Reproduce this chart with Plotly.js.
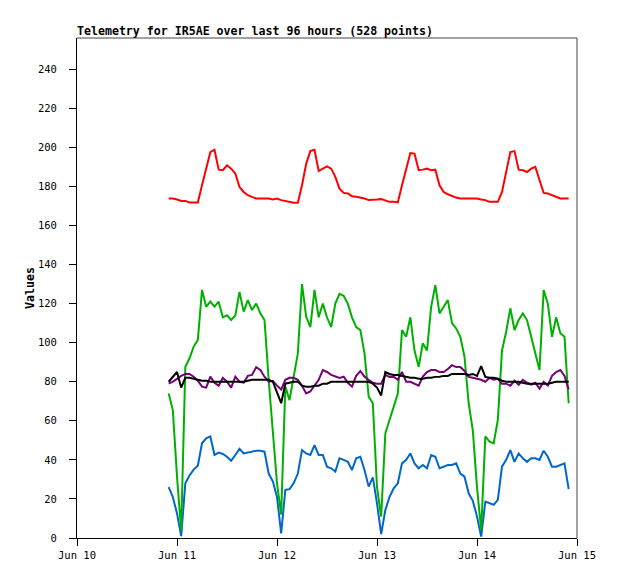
<!DOCTYPE html>
<html>
<head>
<meta charset="utf-8">
<script src="https://cdn.plot.ly/plotly-3.0.1.min.js"></script>
<style>
  body { margin: 0; background: #fff; }
  #chart { width: 618px; height: 579px; }
</style>
</head>
<body>
<div id="chart"></div>
<script>
// hourly samples, first one at Jun 10 22:00
const startTime = Date.UTC(2024, 5, 10, 22, 0, 0);

const red = [
  173.8, 173.8, 173.3, 172.6, 172.6, 171.8, 171.8, 171.8, 180.6, 189.9, 197.6, 198.8, 188.6, 188.3, 190.8, 189.1, 186.6, 179.7, 177.2, 175.5, 174.7, 173.8, 173.8, 173.8, 173.8,
  173.3, 173.8, 173, 172.6, 172.1, 171.6, 171.6, 180.6, 191.6, 198.1, 198.8, 187.9, 189.1, 190.3, 189.1, 184.9, 178.9, 176.7, 176.4, 175, 174.7, 174.3, 173.8, 173,
  173, 173.3, 173.5, 172.6, 172.1, 172.1, 171.8, 180.6, 189.1, 197.1, 196.8, 188.3, 188.6, 189.1, 188.3, 188.6, 180.6, 177.2, 176, 175, 174.3, 173.8, 173.8, 173.8,
  173.8, 173.8, 173.3, 173, 172.1, 172.1, 172.1, 177.2, 186.6, 197.6, 198.1, 188.6, 188.3, 187.4, 189.1, 190, 183.3, 176.7, 176.4, 175.5, 174.7, 173.8, 173.8, 173.8
];

const green = [
  74, 65.5, 31.4, 4, 87.7, 92, 98, 101.4, 127, 118.4, 121, 118.4, 121, 113, 114, 111.6, 114, 126, 115.9, 121.8, 116.7, 120, 115, 111.6, 81,
  55, 28, 12, 77.5, 70.6, 82.6, 94.5, 130, 113.3, 108, 127, 113, 120, 113, 108, 120, 125, 124, 120, 113, 108, 106.5, 94.5, 72.4,
  69, 26, 11, 53.6, 60.4, 67, 74, 106.5, 103, 113, 96, 87.7, 99.7, 96, 118.4, 129.5, 115, 118.4, 121.8, 110, 107.3, 103, 92.8, 69,
  55, 26, 4, 52, 49.3, 48.5, 60.4, 96, 105.6, 117.6, 106.5, 111.6, 115, 111.6, 103, 94.5, 86, 127, 120, 103, 113, 104.8, 103, 69
];

const blue = [
  26, 21, 12.6, 1, 28, 32, 35, 37, 48.5, 51, 52, 42.5, 43.7, 43, 41.6, 39.6, 42.5, 45.6, 43.3, 43.7, 44.2, 44.7, 44.7, 44.2, 33,
  29, 21, 2.4, 24.6, 25, 28, 33, 45, 43.3, 42.5, 47.6, 42.5, 42.5, 36.5, 35.7, 34, 40.8, 40, 39, 34.8, 40.8, 41.6, 34.8, 26.3,
  31, 17.7, 2, 14.3, 21, 25.4, 28, 38.2, 40, 43.3, 38.2, 35.7, 37.4, 35.7, 42.5, 41.6, 35.7, 36.5, 37.4, 37.4, 38.2, 33, 31.4, 22.9,
  19, 11, 0.7, 18.6, 17.7, 17, 19.5, 36.5, 40, 45, 39, 43.3, 40.8, 39, 40.8, 40.8, 40, 44.7, 41.6, 36.5, 36.5, 37.4, 38.2, 25
];

const purple = [
  79, 80, 81.5, 83, 84, 84, 82.6, 80.5, 77.5, 77, 82.6, 79.5, 78, 82, 80, 77, 82.6, 80, 79.5, 83, 83.5, 87.5, 86, 82.6, 80,
  80.5, 78, 76, 81, 82, 82, 81, 78, 74, 75, 78, 81, 86, 85, 83.5, 82.6, 82, 82.6, 79.5, 77.5, 83, 85.5, 82.6, 81,
  79.5, 79, 79, 83.5, 82.5, 82.6, 81, 85, 80, 80, 79, 78, 82.6, 85, 86, 86, 85, 85, 86.5, 88.5, 87.5, 87.5, 85.5, 82.5,
  82, 81.5, 81, 80, 82, 81, 81.5, 79, 79, 78, 80.5, 78.5, 81, 79.5, 78.5, 79.5, 76.5, 80, 78, 83, 85, 86, 83, 76
];

const black = [
  80, 82.5, 85, 77, 82, 82, 81.5, 81, 80.5, 80.5, 80, 80, 80, 80, 80, 80, 80, 80, 80, 80.5, 81, 81, 81, 81, 81,
  80, 74, 69, 79, 79.5, 80, 80, 78, 77.5, 77.5, 78, 78, 79, 79, 80, 80, 80, 80, 80, 80, 80, 80, 80, 80,
  79, 77, 73, 85, 84, 83.5, 83.5, 83, 82.5, 82, 82, 81.5, 81.5, 82, 82, 82.5, 82.6, 83, 83, 84, 84, 84, 84, 83.5,
  84, 83, 88, 82.5, 82, 82, 81.5, 80.5, 80, 80, 80, 80, 79.5, 79, 79, 79, 79, 79, 79, 79.5, 80, 80, 80, 80
];

var times = [];
for (var i = 0; i < red.length; i++) {
  times.push(new Date(startTime + i * 3600000).toISOString().replace('T', ' ').slice(0, 19));
}

function series(y, color) {
  return { x: times, y: y, type: 'scatter', mode: 'lines', line: { color: color, width: 2 }, hoverinfo: 'skip' };
}

var data = [
  series(red, '#ff0000'),
  series(blue, '#0066cc'),
  series(green, '#00b000'),
  series(purple, '#770077'),
  series(black, '#000000')
];

var tickFont = { family: 'DejaVu Sans Mono, monospace', size: 10.5, color: '#000' };

var layout = {
  width: 618, height: 579,
  margin: { l: 77, r: 41, t: 38, b: 41 },
  paper_bgcolor: '#fff', plot_bgcolor: '#fff',
  showlegend: false,
  title: {
    text: 'Telemetry for IR5AE over last 96 hours (528 points)',
    font: { family: 'DejaVu Sans Mono, monospace', size: 11.6, color: '#000', weight: 'bold' },
    x: 0, xref: 'paper', xanchor: 'left',
    y: 1, yref: 'paper', yanchor: 'bottom', pad: { b: 3 }
  },
  xaxis: {
    type: 'date',
    range: ['2024-06-10 00:00:00', '2024-06-15 00:00:00'],
    dtick: 86400000, tick0: '2024-06-10',
    tickformat: '%b %d',
    ticks: 'outside', ticklen: 7, tickcolor: '#000',
    showline: true, linecolor: '#000', linewidth: 1,
    showgrid: false, zeroline: false,
    tickfont: tickFont
  },
  yaxis: {
    range: [0, 256],
    dtick: 20,
    ticks: 'outside', ticklen: 7, tickcolor: '#000',
    ticklabelstandoff: 10,
    showline: true, linecolor: '#000', linewidth: 1,
    showgrid: false, zeroline: false,
    tickfont: tickFont,
    title: { text: 'Values', font: { family: 'DejaVu Sans Mono, monospace', size: 11.6, color: '#000', weight: 'bold' }, standoff: 0 }
  },
  shapes: [
    { type: 'line', xref: 'paper', yref: 'paper', x0: 0, x1: 1, y0: 1, y1: 1, line: { color: '#444', width: 1 } },
    { type: 'line', xref: 'paper', yref: 'paper', x0: 1, x1: 1, y0: 0, y1: 1, line: { color: '#444', width: 1 } }
  ]
};

Plotly.newPlot('chart', data, layout, { displayModeBar: false, staticPlot: true });
</script>
</body>
</html>
